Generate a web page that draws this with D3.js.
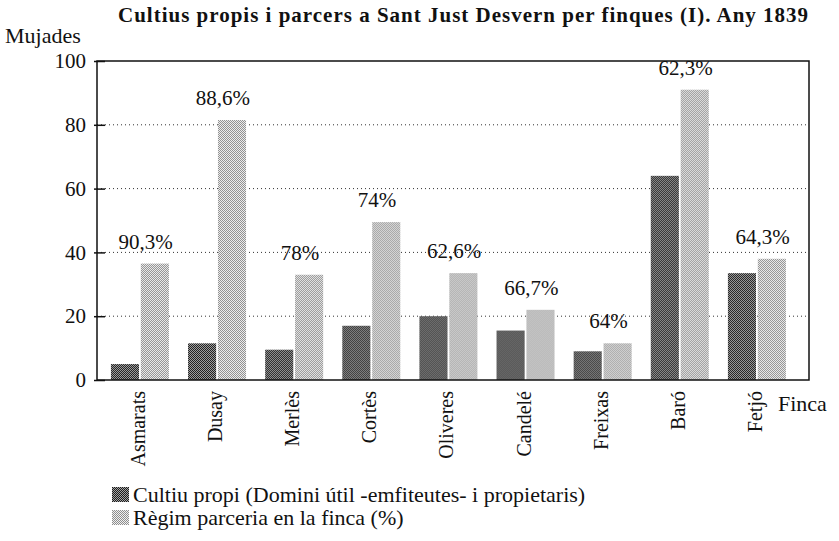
<!DOCTYPE html>
<html>
<head>
<meta charset="utf-8">
<script src="https://cdn.jsdelivr.net/npm/d3@7"></script>
<style>
  html, body { margin: 0; padding: 0; background: #fff; }
  svg { display: block; }
</style>
</head>
<body>
<svg id="chart" width="839" height="541"></svg>
<script>
// ---- data ----
const categories = ["Asmarats", "Dusay", "Merlès", "Cortès", "Oliveres", "Candelé", "Freixas", "Baró", "Fetjó"];
const cultiuPropi = [5, 11.5, 9.5, 17, 20, 15.5, 9, 64, 33.5];
const regimParceria = [36.5, 81.5, 33, 49.5, 33.5, 22, 11.5, 91, 38];
const percentLabels = ["90,3%", "88,6%", "78%", "74%", "62,6%", "66,7%", "64%", "62,3%", "64,3%"];
const yTicks = [0, 20, 40, 60, 80, 100];
const seriesNames = ["Cultiu propi (Domini útil -emfiteutes- i propietaris)", "Règim parceria en la finca (%)"];
const titleText = "Cultius propis i parcers a Sant Just Desvern per finques (I). Any 1839";

const FONT = "'Liberation Serif', 'Times New Roman', Tinos, 'DejaVu Serif', serif";
const svg = d3.select("#chart").attr("font-family", FONT);

// dither-like patterns (checkerboard)
const defs = svg.append("defs");
function checker(id, a, b) {
  const p = defs.append("pattern").attr("id", id).attr("patternUnits", "userSpaceOnUse")
    .attr("width", 2).attr("height", 2);
  p.append("rect").attr("width", 2).attr("height", 2).attr("fill", b);
  p.append("rect").attr("width", 1).attr("height", 1).attr("fill", a);
  p.append("rect").attr("x", 1).attr("y", 1).attr("width", 1).attr("height", 1).attr("fill", a);
}
checker("darkPat", "#1c1c1c", "#a4a4a4");
checker("lightPat", "#8e8e8e", "#f0f0f0");
const fills = ["url(#darkPat)", "url(#lightPat)"];

const pLeft = 97, pRight = 809, pTop = 61, pBottom = 380;

const x = d3.scaleBand(categories, [pLeft, pRight]).paddingInner(0.248).paddingOuter(0.24).align(0.376);
const xs = d3.scaleBand([0, 1], [0, x.bandwidth()]).paddingInner(0.06);
const y = d3.scaleLinear([0, 100], [pBottom, pTop]);

function txt(sel) { return sel.attr("font-family", FONT).attr("fill", "#111"); }

// title
txt(svg.append("text")).attr("x", 118).attr("y", 22)
  .attr("font-size", 21).attr("font-weight", "bold")
  .attr("textLength", 690).attr("lengthAdjust", "spacing").text(titleText);

// y title
txt(svg.append("text")).attr("x", 5).attr("y", 43).attr("font-size", 22).text("Mujades");

// gridlines
svg.append("g").selectAll("line").data(yTicks.filter(t => t > 0 && t < 100)).join("line")
  .attr("x1", pLeft).attr("x2", pRight).attr("y1", d => y(d)).attr("y2", d => y(d))
  .attr("stroke", "#333").attr("stroke-width", 1).attr("stroke-dasharray", "1,3");

// bars
const groups = svg.append("g").selectAll("g").data(categories).join("g")
  .attr("transform", d => `translate(${x(d)},0)`);
[cultiuPropi, regimParceria].forEach((vals, si) => {
  groups.append("rect")
    .attr("x", xs(si))
    .attr("width", xs.bandwidth())
    .attr("y", (d, i) => y(vals[i]))
    .attr("height", (d, i) => y(0) - y(vals[i]))
    .attr("fill", fills[si]);
});

// percent labels
txt(svg.append("g").selectAll("text").data(categories).join("text"))
  .attr("x", d => x(d) + x.bandwidth() * 0.6)
  .attr("y", (d, i) => y(regimParceria[i]) - 15)
  .attr("text-anchor", "middle").attr("font-size", 21)
  .text((d, i) => percentLabels[i]);

// frame
svg.append("rect").attr("x", pLeft).attr("y", pTop).attr("width", pRight - pLeft).attr("height", pBottom - pTop)
  .attr("fill", "none").attr("stroke", "#111").attr("stroke-width", 1.5);

// y axis
const yAxis = svg.append("g").attr("transform", `translate(${pLeft},0)`)
  .call(d3.axisLeft(y).tickValues(yTicks).tickSizeInner(-8).tickSizeOuter(0).tickPadding(11));
yAxis.attr("font-family", FONT).attr("font-size", 21);
yAxis.select(".domain").remove();
yAxis.selectAll(".tick line").attr("stroke", "#111").attr("stroke-width", 1.5).attr("x1", -3);
txt(yAxis.selectAll(".tick text")).attr("font-size", 21);

// x labels
txt(svg.append("g").selectAll("text").data(categories).join("text"))
  .attr("transform", d => `translate(${x(d) + x.bandwidth() / 2 - 2},391) rotate(-90)`)
  .attr("text-anchor", "end").attr("dy", "0.35em").attr("font-size", 20)
  .text(d => d);

txt(svg.append("text")).attr("x", 778).attr("y", 411).attr("font-size", 22).text("Finca");

// legend
const leg = svg.append("g").selectAll("g").data(seriesNames).join("g")
  .attr("transform", (d, i) => `translate(112,${487 + i * 23})`);
leg.append("rect").attr("width", 17).attr("height", 15).attr("fill", (d, i) => fills[i]);
txt(leg.append("text")).attr("x", 21).attr("y", 15).attr("font-size", 22).text(d => d);
</script>
</body>
</html>
